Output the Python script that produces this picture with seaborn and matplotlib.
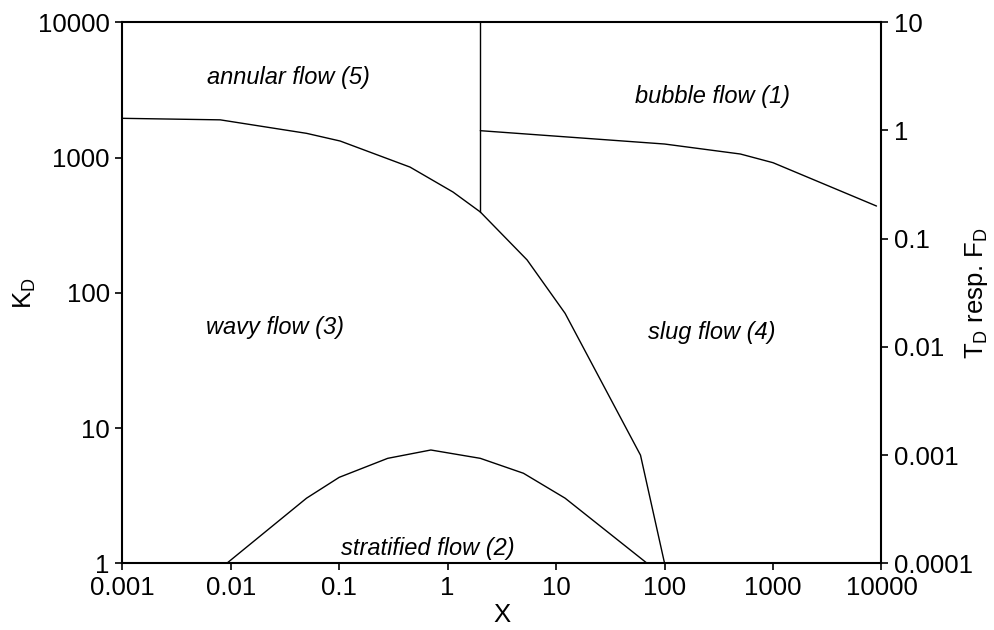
import numpy as np
import pandas as pd
import matplotlib
matplotlib.use("Agg")
import matplotlib.pyplot as plt
import seaborn as sns

# ---- data ----
# boundary annular/wavy/slug (main curve)
main_x = [0.001, 0.008, 0.05, 0.102, 0.45, 1.12, 2.0, 5.4, 12.1, 60.0, 100.0]
main_y = [1950, 1900, 1510, 1325, 850, 556, 396, 175, 70.5, 6.3, 1.0]
# vertical boundary annular / bubble
vert_x = [2.0, 2.0]
vert_y = [396, 10000]
# bubble boundary
bub_x = [2.0, 100.0, 500.0, 1000.0, 9000.0]
bub_y = [1580, 1259, 1062, 916, 438]
# stratified boundary
str_x = [0.0092, 0.05, 0.1, 0.28, 0.70, 2.0, 5.0, 12.1, 69.0]
str_y = [1.0, 3.03, 4.32, 5.97, 6.88, 5.97, 4.63, 3.03, 1.0]

# region labels
region_text = ["annular flow (5)", "bubble flow (1)", "wavy flow (3)",
               "slug flow (4)", "stratified flow (2)"]
region_x = [0.0338, 275, 0.0256, 275, 0.66]
region_y = [3875, 2805, 55.8, 50.5, 1.28]

x_ticks = [0.001, 0.01, 0.1, 1, 10, 100, 1000, 10000]
x_ticklabels = ["0.001", "0.01", "0.1", "1", "10", "100", "1000", "10000"]
yl_ticks = [1, 10, 100, 1000, 10000]
yl_ticklabels = ["1", "10", "100", "1000", "10000"]
yr_ticks = [0.0001, 0.001, 0.01, 0.1, 1, 10]
yr_ticklabels = ["0.0001", "0.001", "0.01", "0.1", "1", "10"]

# ---- style ----
sns.set_theme(style="white")
plt.rcParams["font.family"] = ["Liberation Sans", "DejaVu Sans"]
plt.rcParams["mathtext.fontset"] = "custom"
plt.rcParams["mathtext.rm"] = "Liberation Sans"
plt.rcParams["axes.labelcolor"] = "black"
plt.rcParams["text.color"] = "black"

fig = plt.figure(figsize=(9.95, 6.30), dpi=100)
ax = fig.add_axes([0.1229, 0.1059, 0.7630, 0.8587])

for xs, ys in [(main_x, main_y), (vert_x, vert_y), (bub_x, bub_y), (str_x, str_y)]:
    df = pd.DataFrame({"x": xs, "y": ys})
    sns.lineplot(data=df, x="x", y="y", ax=ax, color="black", linewidth=1.0,
                 sort=False, estimator=None)

ax.set_xscale("log")
ax.set_yscale("log")
ax.set_xlim(0.001, 10000)
ax.set_ylim(1, 10000)
ax.set_xticks(x_ticks)
ax.set_xticklabels(x_ticklabels)
ax.set_yticks(yl_ticks)
ax.set_yticklabels(yl_ticklabels)
ax.minorticks_off()
ax.tick_params(axis="both", which="major", direction="out", length=5, width=1.2,
               labelsize=18.5, colors="black", left=True, bottom=True, pad=4)
ax.set_xlabel("X", fontsize=18.5, labelpad=2, color="black")
ax.set_ylabel("K$_\\mathregular{D}$", fontsize=18.5, color="black")
ax.yaxis.set_label_coords(-0.111, 0.5)

for side in ["left", "right", "top", "bottom"]:
    ax.spines[side].set_color("black")
    ax.spines[side].set_linewidth(1.5)

for s, x, y in zip(region_text, region_x, region_y):
    ax.text(x, y, s, ha="center", va="center", style="italic", fontsize=17, color="black")

ax2 = ax.twinx()
ax2.set_yscale("log")
ax2.set_ylim(0.0001, 10)
ax2.set_yticks(yr_ticks)
ax2.set_yticklabels(yr_ticklabels)
ax2.minorticks_off()
ax2.tick_params(axis="y", which="major", direction="out", length=5, width=1.2,
                labelsize=18.5, colors="black", right=True, pad=4)
ax2.set_ylabel("T$_\\mathregular{D}$ resp. F$_\\mathregular{D}$", fontsize=18.5,
               rotation=90, color="black")
ax2.yaxis.set_label_coords(1.107, 0.5)
for side in ["left", "right", "top", "bottom"]:
    ax2.spines[side].set_visible(False)
ax2.grid(False)
ax.grid(False)

fig.savefig("out.png", dpi=100)
